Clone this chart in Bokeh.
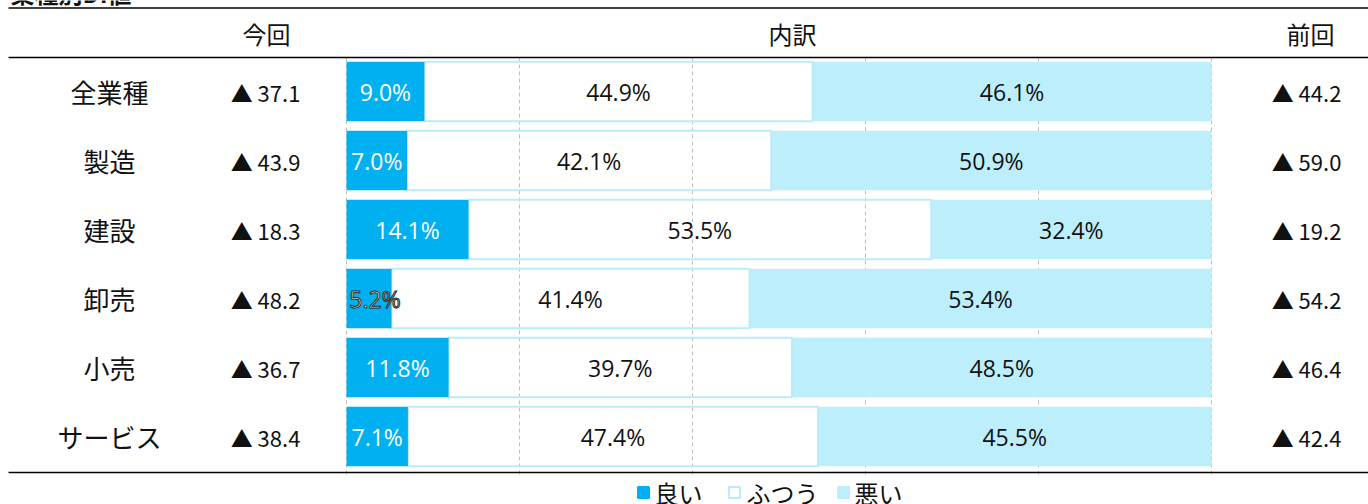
from bokeh.plotting import figure
from bokeh.models import Range1d
from bokeh.embed import file_html
from bokeh.resources import INLINE
from bokeh.core.properties import value

# ---- data ----
title = "業種別DI値"
categories = ["全業種", "製造", "建設", "卸売", "小売", "サービス"]
good = [9.0, 7.0, 14.1, 5.2, 11.8, 7.1]
normal = [44.9, 42.1, 53.5, 41.4, 39.7, 47.4]
bad = [46.1, 50.9, 32.4, 53.4, 48.5, 45.5]
current_di = [-37.1, -43.9, -18.3, -48.2, -36.7, -38.4]
previous_di = [-44.2, -59.0, -19.2, -54.2, -46.4, -42.4]
headers = ["今回", "内訳", "前回"]
series_names = ["良い", "ふつう", "悪い"]
grid_ticks = [0, 20, 40, 60, 80, 100]

# ---- layout constants ----
W, H = 1368, 504
PX0 = 346.0      # pixel x of 0 %
PPU = 8.65       # pixels per percent
ROW0 = 91.0      # pixel y of first row centre
ROWH = 69.0      # pixels between rows


def xd(px):
    return (px - PX0) / PPU


def yd(py):
    return (py - ROW0) / ROWH


C_GOOD = "#00B0F0"
C_BAD = "#BDEEFB"
C_EDGE = "#B9ECFA"
JP = value("Noto Sans CJK JP")
LAB = value("Open Sans")

p = figure(width=W, height=H,
           x_range=Range1d(xd(0), xd(W)), y_range=Range1d(yd(H), yd(0)),
           output_backend="svg", toolbar_location=None, min_border=0,
           x_axis_location=None, y_axis_location=None,
           margin=(0, 0, 0, 0))
p.grid.visible = False
p.outline_line_color = None
p.background_fill_color = "white"
p.border_fill_color = "white"

n = len(categories)
rows = list(range(n))

# grid lines
p.segment(x0=grid_ticks, x1=grid_ticks, y0=[yd(57)] * len(grid_ticks),
          y1=[yd(477)] * len(grid_ticks), line_color="#BFBFBF",
          line_width=1, line_dash="4 3")

g_left = [0.0] * n
g_right = good
n_left = good
n_right = [g + m for g, m in zip(good, normal)]
b_left = n_right
b_right = [l + b for l, b in zip(b_left, bad)]

BH = 0.86
p.hbar(y=rows, left=b_left, right=b_right, height=BH, fill_color=C_BAD,
       line_color=None)
p.hbar(y=rows, left=n_left, right=n_right, height=BH, fill_color=None,
       line_color=C_EDGE, line_width=2)
p.hbar(y=rows, left=g_left, right=g_right, height=BH, fill_color=C_GOOD,
       line_color=None)

# segment labels
fmt = lambda v: f"{v:.1f}%"
lab_fs = "23px"
white_idx = [i for i in rows if good[i] >= 6]
outl_idx = [i for i in rows if good[i] < 6]
p.text(x=[good[i] / 2 for i in white_idx], y=[rows[i] for i in white_idx],
       text=[fmt(good[i]) for i in white_idx], text_color="white",
       text_font=LAB, text_font_size=lab_fs, text_align="center",
       text_baseline="middle")
p.text(x=[good[i] / 2 + 0.7 for i in outl_idx], y=[rows[i] for i in outl_idx],
       text=[fmt(good[i]) for i in outl_idx], text_color="white",
       text_outline_color="#222222",
       text_font=LAB, text_font_size=lab_fs, text_align="center",
       text_baseline="middle")
p.text(x=[(l + r) / 2 for l, r in zip(n_left, n_right)], y=rows,
       text=[fmt(v) for v in normal], text_color="#111111",
       text_font=LAB, text_font_size=lab_fs, text_align="center",
       text_baseline="middle")
p.text(x=[(l + r) / 2 for l, r in zip(b_left, b_right)], y=rows,
       text=[fmt(v) for v in bad], text_color="#111111",
       text_font=LAB, text_font_size=lab_fs, text_align="center",
       text_baseline="middle")

# category names and DI values
di = lambda v: ("▲ " if v < 0 else "") + f"{abs(v):.1f}"
p.text(x=[xd(109)] * n, y=rows, text=categories, text_color="#111111",
       text_font=JP, text_font_size="26px", text_align="center",
       text_baseline="middle")
p.text(x=[xd(265)] * n, y=rows, text=[di(v) for v in current_di],
       text_color="#111111", text_font=JP, text_font_size="22px",
       text_align="center", text_baseline="middle")
p.text(x=[xd(1306)] * n, y=rows, text=[di(v) for v in previous_di],
       text_color="#111111", text_font=JP, text_font_size="22px",
       text_align="center", text_baseline="middle")

# headers
p.text(x=[xd(266), xd(792), xd(1310)], y=[yd(33)] * 3, text=headers,
       text_color="#111111", text_font=JP, text_font_size="24px",
       text_align="center", text_baseline="middle")

# title (cut at top of picture, as in the reference)
p.text(x=[xd(10)], y=[yd(9)], text=[title], text_color="#111111",
       text_font=JP, text_font_size="24px", text_font_style="bold",
       text_align="left", text_baseline="bottom")

# rules
p.segment(x0=[xd(8)] * 3, x1=[xd(W)] * 3, y0=[yd(7.5), yd(57), yd(472)],
          y1=[yd(7.5), yd(57), yd(472)], line_color="black", line_width=1.6)

# legend
leg_sq_x = [xd(643), xd(734), xd(843)]
leg_tx_x = [xd(654), xd(746), xd(854)]
ly = yd(492)
p.scatter(x=leg_sq_x, y=[ly] * 3, marker="square", size=11,
          fill_color=[C_GOOD, "white", C_BAD],
          line_color=[C_GOOD, C_EDGE, C_BAD], line_width=2)
p.text(x=leg_tx_x, y=[ly] * 3, text=series_names, text_color="#111111",
       text_font=JP, text_font_size="24px", text_align="left",
       text_baseline="middle")

open("out.html", "w").write(file_html(p, INLINE))
